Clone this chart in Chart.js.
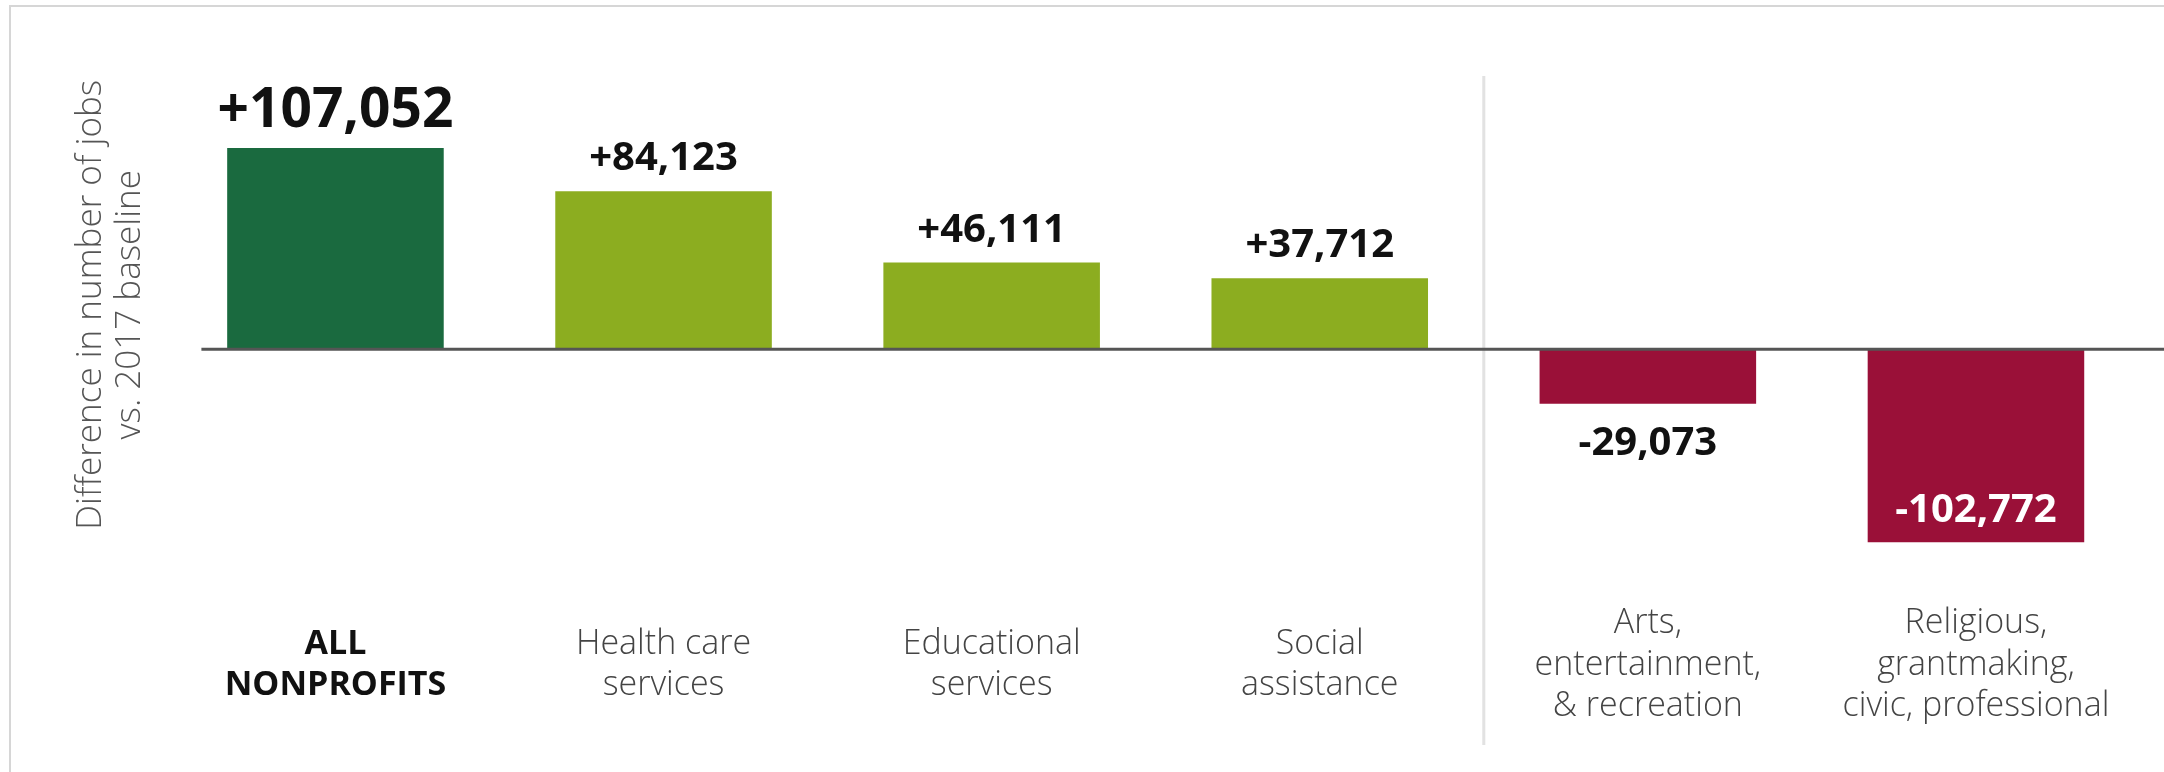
<!DOCTYPE html>
<html>
<head>
<meta charset="utf-8">
<script src="https://cdn.jsdelivr.net/npm/chart.js@4.4.1/dist/chart.umd.min.js"></script>
<style>
  html, body { margin: 0; padding: 0; background: #fff; }
  #wrap { width: 2164px; height: 772px; }
</style>
</head>
<body>
<div id="wrap"><canvas id="chart" width="2164" height="772"></canvas></div>
<script>
const categories = [
  ["ALL", "NONPROFITS"],
  ["Health care", "services"],
  ["Educational", "services"],
  ["Social", "assistance"],
  ["Arts,", "entertainment,", "& recreation"],
  ["Religious,", "grantmaking,", "civic, professional"]
];
const jobChange = [107052, 84123, 46111, 37712, -29073, -102772];
const barColors = ["#1a6a3f", "#8cad20", "#8cad20", "#8cad20", "#9a1038", "#9a1038"];
const yTitle = ["Difference in number of jobs", "vs. 2017 baseline"];
const yMin = -133350;
const yMax = 180600;
const dividerAfter = 3; // line between growing and shrinking sectors

const FONT = "'Open Sans', 'Liberation Sans', sans-serif";

function fmt(v) {
  return (v > 0 ? "+" : "-") + Math.abs(v).toLocaleString("en-US");
}

const decor = {
  id: "decor",
  beforeDatasetsDraw(chart) {
    const { ctx, scales: { x } } = chart;
    ctx.save();
    // frame (top + left edges)
    ctx.strokeStyle = "#d6d6d6";
    ctx.lineWidth = 2;
    ctx.beginPath();
    ctx.moveTo(10, chart.height);
    ctx.lineTo(10, 6);
    ctx.lineTo(chart.width, 6);
    ctx.stroke();
    // divider
    const xd = (x.getPixelForValue(dividerAfter) + x.getPixelForValue(dividerAfter + 1)) / 2;
    ctx.strokeStyle = "#e2e2e2";
    ctx.lineWidth = 3;
    ctx.beginPath();
    ctx.moveTo(xd, 76);
    ctx.lineTo(xd, 745);
    ctx.stroke();
    ctx.restore();
  },
  afterDatasetsDraw(chart) {
    const { ctx, chartArea, scales: { y } } = chart;
    const y0 = y.getPixelForValue(0);
    ctx.save();
    ctx.strokeStyle = "#555";
    ctx.lineWidth = 3;
    ctx.beginPath();
    ctx.moveTo(chartArea.left + 30, y0);
    ctx.lineTo(chart.width, y0);
    ctx.stroke();

    const bars = chart.getDatasetMeta(0).data;
    bars.forEach((bar, i) => {
      const v = jobChange[i];
      ctx.textAlign = "center";
      ctx.textBaseline = "alphabetic";
      ctx.font = (i === 0 ? "700 55px " : "700 40px ") + FONT;
      let ty;
      ctx.fillStyle = "#111";
      if (v >= 0) {
        ty = bar.y - 21;
      } else if (bar.y - y0 > 150) {
        ty = bar.y - 20;
        ctx.fillStyle = "#fff";
      } else {
        ty = bar.y + 51;
      }
      ctx.fillText(fmt(v), bar.x, ty);
    });
    ctx.restore();
  }
};

new Chart(document.getElementById("chart"), {
  type: "bar",
  data: {
    labels: categories,
    datasets: [{
      data: jobChange,
      backgroundColor: barColors,
      barPercentage: 0.66,
      categoryPercentage: 1
    }]
  },
  options: {
    responsive: false,
    animation: false,
    layout: { padding: { left: 60, right: 24, top: 10, bottom: 0 } },
    plugins: { legend: { display: false }, tooltip: { enabled: false } },
    scales: {
      x: {
        grid: { display: false, drawTicks: false },
        border: { display: false },
        ticks: {
          padding: 24,
          crossAlign: "center",
          autoSkip: false,
          maxRotation: 0,
          color: c => c.index === 0 ? "#111" : "#444",
          font: c => ({ family: FONT, size: 34, weight: c.index === 0 ? "700" : "300", lineHeight: 1.22 })
        }
      },
      y: {
        min: yMin,
        max: yMax,
        grid: { display: false, drawTicks: false },
        border: { display: false },
        ticks: { display: false },
        title: {
          display: true,
          text: yTitle,
          color: "#555",
          font: { family: FONT, size: 35, weight: "300", lineHeight: 1.12 },
          padding: { top: 11, bottom: 22 }
        }
      }
    }
  },
  plugins: [decor]
});
</script>
</body>
</html>
